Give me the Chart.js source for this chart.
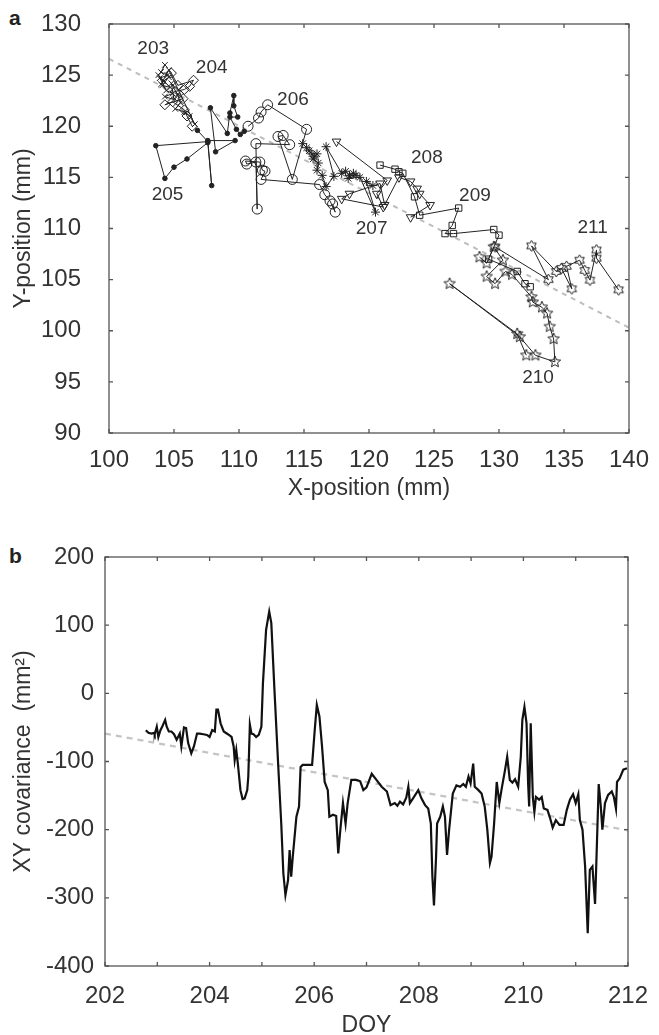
<!DOCTYPE html>
<html>
<head>
<meta charset="utf-8">
<script src="https://cdn.jsdelivr.net/npm/chart.js@4.4.1/dist/chart.umd.min.js"></script>
<style>
  body { margin: 0; background: #fff; width: 659px; height: 1035px; overflow: hidden; position: relative; }
  canvas { position: absolute; left: 0; }
  .panel { position: absolute; left: 9px; font: bold 21px "Liberation Sans", Arial, sans-serif; color: #222; }
</style>
</head>
<body>
<div class="panel" style="top:6px">a</div>
<canvas id="track" width="659" height="510" style="top:0"></canvas>
<div class="panel" style="top:544px">b</div>
<canvas id="cov" width="659" height="500" style="top:540px"></canvas>
<script>
// Panel a: daily tracks, [x, y] in mm
var day203 = [[104.3,126.0],[104.0,125.3],[104.5,125.0],[103.9,124.7],[104.2,124.4],[104.6,124.8],[104.1,124.0],[104.7,123.8],[103.8,125.0],[104.4,123.5],[104.9,123.2],[104.3,122.9],[105.0,122.6],[104.8,124.2],[105.3,123.0],[105.5,122.3],[105.1,121.7],[105.8,121.4],[106.2,121.0],[106.6,120.2],[104.6,125.5],[104.0,124.1]];
var day204 = [[104.8,125.2],[105.3,124.0],[106.5,124.5],[106.2,123.9],[105.8,123.6],[105.1,123.4],[105.7,122.7],[104.3,122.1],[104.9,122.4],[105.8,121.6],[106.0,121.0],[106.4,120.0]];
var day205 = [[106.8,119.6],[107.6,118.5],[103.6,118.1],[104.3,114.9],[105.0,116.0],[106.0,116.8],[107.6,118.4],[107.9,114.2],[107.6,118.6],[109.7,118.6],[108.2,117.5],[107.8,121.8],[109.1,119.3],[109.3,121.3],[109.6,123.0],[109.6,122.0],[109.9,120.9],[109.3,120.9],[109.8,119.7],[110.1,119.2],[110.4,119.5]];
var day206 = [[110.7,120.0],[111.5,120.8],[111.7,121.4],[112.2,122.1],[115.2,119.7],[114.1,114.8],[113.0,119.0],[113.4,119.1],[113.9,118.2],[111.3,118.3],[111.4,111.9],[111.3,116.5],[110.6,116.3],[110.5,116.6],[111.6,116.5],[111.8,115.7],[112.0,115.6],[111.7,114.8],[116.2,114.3],[116.6,113.3],[117.0,112.7],[117.4,111.6],[117.2,112.4]];
var day207 = [[114.9,118.3],[115.2,117.9],[115.4,117.6],[115.6,117.3],[115.8,117.0],[116.0,117.3],[115.7,116.8],[116.1,116.4],[116.0,115.7],[116.4,115.2],[116.7,114.1],[117.3,115.1],[116.7,118.0],[117.9,115.4],[118.2,115.6],[118.5,115.2],[118.8,115.4],[119.0,115.2],[118.4,114.9],[119.3,115.0],[120.5,111.6],[119.8,114.6],[120.3,114.2]];
var day208 = [[117.5,118.5],[121.4,114.7],[120.6,113.4],[121.1,112.1],[117.9,112.9],[118.5,113.4],[120.85,114.4],[121.2,112.3],[122.3,115.0],[123.2,114.6],[123.7,113.9],[123.9,113.4],[124.7,112.3],[123.2,111.1]];
var day209 = [[120.85,116.2],[122.0,115.8],[122.3,115.55],[122.6,115.4],[123.5,113.1],[123.9,111.3],[126.9,112.0],[126.4,110.3],[125.85,109.5],[126.5,109.5],[129.6,109.9],[130.0,109.35],[129.2,107.0],[131.4,105.8],[132.0,104.6],[132.4,104.3]];
var day210 = [[128.5,107.2],[129.05,106.6],[129.6,108.2],[130.3,106.9],[129.05,105.3],[129.7,104.6],[130.5,105.8],[131.0,105.5],[132.5,103.3],[132.6,102.8],[133.3,102.3],[133.7,101.7],[133.9,100.4],[134.2,99.2],[134.3,96.95],[132.8,97.6],[131.6,99.4],[126.2,104.6],[131.4,99.7],[132.1,97.6]];
var day211 = [[129.7,108.2],[133.8,105.0],[132.5,108.3],[134.4,105.8],[134.8,106.1],[135.6,104.1],[135.2,106.3],[136.2,106.9],[136.6,105.9],[137.0,104.95],[137.5,107.9],[137.5,107.1],[139.2,104.0]];

var dayNames = ['203','204','205','206','207','208','209','210','211'];
var nameX = [103.4,107.9,104.5,114.15,120.2,124.45,128.15,133.0,137.2];
var nameY = [127.55,125.7,113.3,122.6,110.0,116.9,113.25,95.45,110.1];

var fitX = [100, 140];
var fitY = [126.6, 100.3];

// Panel b: XY covariance through time
var doy = [202.78,202.83,202.89,202.94,202.95,202.99,203.02,203.06,203.10,203.15,
  203.18,203.22,203.27,203.32,203.37,203.43,203.46,203.51,203.55,203.59,
  203.65,203.70,203.76,203.81,203.88,203.95,204.00,204.05,204.10,204.13,
  204.16,204.21,204.27,204.35,204.42,204.46,204.48,204.51,204.54,204.59,
  204.63,204.67,204.72,204.74,204.77,204.80,204.84,204.89,204.94,204.99,
  205.02,205.08,205.14,205.18,205.24,205.31,205.37,205.41,205.45,205.50,
  205.53,205.56,205.59,205.66,205.71,205.74,205.78,205.88,205.96,206.01,
  206.05,206.10,206.15,206.20,206.26,206.29,206.36,206.42,206.46,206.50,
  206.55,206.60,206.64,206.71,206.80,206.88,206.94,207.00,207.10,207.19,
  207.29,207.39,207.46,207.54,207.59,207.64,207.70,207.76,207.80,207.83,
  207.89,207.99,208.05,208.12,208.18,208.23,208.26,208.29,208.33,208.35,
  208.41,208.46,208.50,208.54,208.58,208.65,208.72,208.79,208.85,208.90,
  208.95,208.99,209.04,209.07,209.14,209.20,209.26,209.31,209.36,209.39,
  209.44,209.49,209.54,209.58,209.65,209.69,209.74,209.79,209.84,209.90,
  209.95,209.98,210.02,210.06,210.09,210.11,210.14,210.18,210.21,210.24,
  210.30,210.35,210.39,210.46,210.51,210.56,210.62,210.69,210.77,210.83,
  210.89,210.95,211.00,211.05,211.08,211.13,211.18,211.23,211.27,211.32,
  211.37,211.40,211.44,211.48,211.51,211.56,211.62,211.69,211.73,211.77,
  211.79,211.84,211.91,211.98];
var cov = [-54,-58,-59,-58,-60,-49,-64,-54,-48,-39,
  -49,-56,-56,-60,-68,-59,-78,-50,-51,-73,
  -88,-78,-59,-59,-60,-61,-64,-54,-56,-24,
  -24,-44,-56,-60,-64,-78,-98,-83,-103,-142,
  -155,-154,-142,-122,-46,-59,-60,-64,-61,-49,
  15,93,120,103,5,-103,-191,-264,-296,-274,
  -230,-269,-240,-181,-166,-108,-105,-105,-105,-54,
  -17,-34,-78,-130,-142,-181,-178,-180,-235,-200,
  -161,-191,-161,-127,-127,-129,-142,-138,-118,-127,
  -137,-144,-164,-161,-165,-159,-163,-153,-137,-161,
  -154,-142,-154,-164,-169,-191,-269,-311,-240,-191,
  -181,-166,-181,-237,-200,-147,-135,-137,-133,-137,
  -122,-132,-103,-137,-142,-147,-166,-200,-249,-240,
  -191,-130,-161,-142,-112,-93,-127,-131,-126,-137,
  -93,-39,-20,-44,-132,-166,-44,-152,-174,-152,
  -156,-152,-169,-171,-183,-197,-186,-193,-193,-171,
  -156,-148,-161,-148,-186,-200,-254,-352,-259,-254,
  -309,-235,-133,-166,-200,-161,-149,-144,-152,-169,
  -130,-125,-112,-110];
var trendX = [202, 212];
var trendY = [-59, -201];

var FONT = '"Liberation Sans", Arial, sans-serif';
var TXT = '#333';
var INK = '#222';

// outlined star marker (pentagram / hexagram) as a small canvas
function starMarker(n, r, inner) {
    var c = document.createElement('canvas');
    var s = Math.ceil(r * 2 + 4);
    c.width = s; c.height = s;
    var g = c.getContext('2d');
    g.strokeStyle = INK;
    g.lineWidth = 1;
    g.beginPath();
    for (var i = 0; i < n * 2; i++) {
        var rad = i % 2 ? r * inner : r;
        var a = -Math.PI / 2 + i * Math.PI / n;
        var px = s / 2 + rad * Math.cos(a), py = s / 2 + rad * Math.sin(a);
        if (i === 0) g.moveTo(px, py); else g.lineTo(px, py);
    }
    g.closePath();
    g.stroke();
    return c;
}

function pts(list) {
    return list.map(function (p) { return {x: p[0], y: p[1]}; });
}

function track(list, style, radius, extra) {
    var ds = {
        data: pts(list),
        showLine: true,
        borderColor: INK,
        borderWidth: 1,
        pointStyle: style,
        pointRadius: radius,
        pointBorderColor: INK,
        pointBackgroundColor: 'rgba(0,0,0,0)',
        pointBorderWidth: 1,
        order: 1
    };
    for (var k in extra) ds[k] = extra[k];
    return ds;
}

// box round the plot, with inward ticks on all four sides
var framePlugin = {
    id: 'frame',
    afterDraw: function (chart) {
        var ctx = chart.ctx, a = chart.chartArea, sx = chart.scales.x, sy = chart.scales.y;
        var len = 4;
        ctx.save();
        ctx.strokeStyle = '#555';
        ctx.lineWidth = 1.3;
        ctx.strokeRect(a.left, a.top, a.right - a.left, a.bottom - a.top);
        ctx.beginPath();
        sx.ticks.forEach(function (t) {
            var px = sx.getPixelForValue(t.value);
            ctx.moveTo(px, a.bottom); ctx.lineTo(px, a.bottom - len);
            ctx.moveTo(px, a.top); ctx.lineTo(px, a.top + len);
        });
        sy.ticks.forEach(function (t) {
            var py = sy.getPixelForValue(t.value);
            ctx.moveTo(a.left, py); ctx.lineTo(a.left + len, py);
            ctx.moveTo(a.right, py); ctx.lineTo(a.right - len, py);
        });
        ctx.stroke();
        ctx.restore();
    }
};

// day numbers written beside each track
var dayLabelPlugin = {
    id: 'dayLabels',
    afterDatasetsDraw: function (chart) {
        var ctx = chart.ctx, sx = chart.scales.x, sy = chart.scales.y;
        ctx.save();
        ctx.fillStyle = TXT;
        ctx.font = '19px ' + FONT;
        ctx.textAlign = 'center';
        ctx.textBaseline = 'middle';
        dayNames.forEach(function (name, i) {
            ctx.fillText(name, sx.getPixelForValue(nameX[i]), sy.getPixelForValue(nameY[i]));
        });
        ctx.restore();
    }
};

// fixed box size, and no extra room reserved for the end labels
function fixBox(w, h) {
    return function (s) {
        if (w) s.width = w;
        if (h) s.height = h;
        s.paddingTop = 0; s.paddingBottom = 0; s.paddingLeft = 0; s.paddingRight = 0;
    };
}

function axis(min, max, step, padding, title, titlePad, fit) {
    return {
        type: 'linear',
        min: min,
        max: max,
        grid: {display: false, drawTicks: false, tickLength: 0},
        border: {display: false},
        ticks: {stepSize: step, autoSkip: false, maxRotation: 0, padding: padding, color: TXT, font: {family: FONT, size: 24}},
        title: {display: true, text: title, color: TXT, font: {family: FONT, size: 23}, padding: titlePad},
        afterFit: fit
    };
}

new Chart(document.getElementById('track'), {
    type: 'scatter',
    data: {
        datasets: [
            {data: pts([[fitX[0], fitY[0]], [fitX[1], fitY[1]]]), showLine: true, borderColor: '#bdbdbd', borderWidth: 2, borderDash: [5, 5], pointRadius: 0, order: 10},
            track(day203, 'crossRot', 4),
            track(day204, 'rectRot', 5),
            track(day205, 'circle', 2.3, {pointBackgroundColor: INK}),
            track(day206, 'circle', 5),
            track(day207, 'star', 4.5),
            track(day208, 'triangle', 5, {pointRotation: 180}),
            track(day209, 'rect', 4.5),
            track(day210, starMarker(5, 6, 0.45), 6),
            track(day211, starMarker(6, 5.5, 0.58), 6)
        ]
    },
    options: {
        responsive: false,
        animation: false,
        devicePixelRatio: 1,
        layout: {padding: {top: 24, right: 30, left: 0, bottom: 0}},
        plugins: {legend: {display: false}, tooltip: {enabled: false}},
        scales: {
            x: axis(100, 140, 5, 13, 'X-position (mm)', {top: 0, bottom: 8}, fixBox(0, 77)),
            y: axis(90, 130, 5, 28, 'Y-position (mm)', {top: 10, bottom: 0}, fixBox(109, 0))
        }
    },
    plugins: [framePlugin, dayLabelPlugin]
});

var covX = axis(202, 212, 1, 16, 'DOY', {top: 0, bottom: 1}, fixBox(0, 74));
// only even days are labelled on panel b
covX.ticks.callback = function (v) { return v % 2 === 0 ? v : ''; };

new Chart(document.getElementById('cov'), {
    type: 'scatter',
    data: {
        datasets: [
            {data: pts([[trendX[0], trendY[0]], [trendX[1], trendY[1]]]), showLine: true, borderColor: '#c4c4c4', borderWidth: 2.2, borderDash: [6, 5], pointRadius: 0, order: 10},
            {data: doy.map(function (d, i) { return {x: d, y: cov[i]}; }), showLine: true, borderColor: '#111', borderWidth: 2.2, pointRadius: 0, order: 1}
        ]
    },
    options: {
        responsive: false,
        animation: false,
        devicePixelRatio: 1,
        layout: {padding: {top: 17, right: 31, left: 0, bottom: 0}},
        plugins: {legend: {display: false}, tooltip: {enabled: false}},
        scales: {
            x: covX,
            y: axis(-400, 200, 100, 11, 'XY covariance  (mm\u00B2)', {top: 10, bottom: 0}, fixBox(105, 0))
        }
    },
    plugins: [framePlugin]
});
</script>
</body>
</html>
